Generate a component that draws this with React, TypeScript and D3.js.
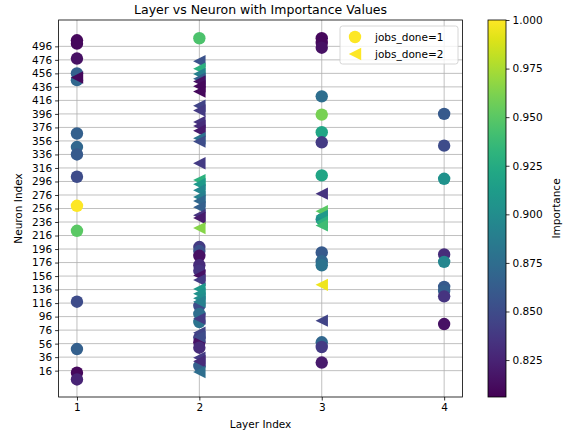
import React, { useRef, useEffect } from 'react';
import * as d3 from 'd3';

// [layer, neuron, importance]
const jobsOne: [number, number, number][] = [
  [1, 505, 0.81], [1, 500, 0.81], [1, 478, 0.815], [1, 456, 0.865], [1, 446, 0.87],
  [1, 367, 0.865], [1, 347, 0.87], [1, 336, 0.86], [1, 303, 0.85], [1, 260, 1.0],
  [1, 223, 0.95], [1, 118, 0.85], [1, 48, 0.865], [1, 13, 0.81], [1, 3, 0.825],
  [2, 508, 0.945], [2, 199, 0.84], [2, 193, 0.855], [2, 186, 0.815], [2, 172, 0.83],
  [2, 164, 0.835], [2, 112, 0.85], [2, 100, 0.875], [2, 88, 0.88], [2, 65, 0.84],
  [2, 58, 0.815], [2, 50, 0.83], [2, 23, 0.865],
  [3, 508, 0.81], [3, 501, 0.81], [3, 494, 0.815], [3, 422, 0.875], [3, 395, 0.96],
  [3, 369, 0.92], [3, 354, 0.84], [3, 305, 0.92], [3, 240, 0.9], [3, 191, 0.86],
  [3, 178, 0.87], [3, 172, 0.88], [3, 58, 0.87], [3, 51, 0.84], [3, 28, 0.82],
  [4, 396, 0.86], [4, 349, 0.85], [4, 300, 0.905], [4, 188, 0.83], [4, 177, 0.895],
  [4, 140, 0.86], [4, 134, 0.865], [4, 126, 0.835], [4, 85, 0.815],
];

const jobsTwo: [number, number, number][] = [
  [1, 450, 0.81],
  [2, 474, 0.855], [2, 463, 0.93], [2, 455, 0.89], [2, 448, 0.865], [2, 444, 0.815],
  [2, 437, 0.81], [2, 429, 0.81], [2, 408, 0.845], [2, 401, 0.84], [2, 384, 0.835],
  [2, 378, 0.83], [2, 371, 0.82], [2, 360, 0.88], [2, 355, 0.85], [2, 323, 0.84],
  [2, 298, 0.93], [2, 292, 0.91], [2, 283, 0.895], [2, 273, 0.89], [2, 267, 0.87],
  [2, 258, 0.865], [2, 246, 0.835], [2, 242, 0.82], [2, 227, 0.965], [2, 157, 0.815],
  [2, 150, 0.84], [2, 137, 0.91], [2, 130, 0.905], [2, 123, 0.9], [2, 118, 0.89],
  [2, 93, 0.84], [2, 72, 0.845], [2, 66, 0.85], [2, 35, 0.84], [2, 30, 0.83], [2, 14, 0.875],
  [3, 278, 0.835], [3, 252, 0.95], [3, 245, 0.91], [3, 236, 0.93], [3, 231, 0.94],
  [3, 143, 0.995], [3, 90, 0.845],
];

const layerTicks = [1, 2, 3, 4];
const neuronTicks = d3.range(16, 497, 20);
const colorTicks = [0.825, 0.85, 0.875, 0.9, 0.925, 0.95, 0.975, 1.0];
const legendLabels = ['jobs_done=1', 'jobs_done=2'];

const App = () => {
  const ref = useRef<SVGSVGElement>(null);

  useEffect(() => {
    const svg = d3.select(ref.current);
    svg.selectAll('*').remove();

    const font = 'DejaVu Sans, sans-serif';
    const left = 58.6, right = 462.5, top = 20, bottom = 397;
    const r = 6.2;

    const x = d3.scaleLinear().domain([0.85, 4.15]).range([left, right]);
    const y = d3.scaleLinear().domain([-23, 535]).range([bottom, top]);
    const cmin = 0.806, cmax = 1.0;
    const color = (v: number) => d3.interpolateViridis((v - cmin) / (cmax - cmin));

    svg.append('rect').attr('width', 570).attr('height', 437).attr('fill', '#fff');

    // grid
    const grid = svg.append('g').attr('stroke', '#b0b0b0').attr('stroke-width', 0.8);
    neuronTicks.forEach(t => {
      grid.append('line').attr('x1', left).attr('x2', right).attr('y1', y(t)).attr('y2', y(t));
    });
    layerTicks.forEach(t => {
      grid.append('line').attr('y1', top).attr('y2', bottom).attr('x1', x(t)).attr('x2', x(t));
    });

    // points
    const clipId = 'plot-clip';
    svg.append('clipPath').attr('id', clipId)
      .append('rect').attr('x', left).attr('y', top).attr('width', right - left).attr('height', bottom - top);

    const pts = svg.append('g').attr('clip-path', `url(#${clipId})`);
    pts.selectAll('circle.one')
      .data(jobsOne)
      .join('circle')
      .attr('cx', d => x(d[0]))
      .attr('cy', d => y(d[1]))
      .attr('r', r)
      .attr('fill', d => color(d[2]));

    const tri = (cx: number, cy: number, s: number) =>
      `M${cx - s},${cy}L${cx + s},${cy - s}L${cx + s},${cy + s}Z`;

    pts.selectAll('path.two')
      .data(jobsTwo)
      .join('path')
      .attr('d', d => tri(x(d[0]), y(d[1]), r))
      .attr('fill', d => color(d[2]));

    // axes
    const xAxis = svg.append('g')
      .attr('transform', `translate(0,${bottom})`)
      .call(d3.axisBottom(x).tickValues(layerTicks).tickFormat(d3.format('d')).tickSize(3.5).tickPadding(3));
    const yAxis = svg.append('g')
      .attr('transform', `translate(${left},0)`)
      .call(d3.axisLeft(y).tickValues(neuronTicks).tickFormat(d3.format('d')).tickSize(3.5).tickPadding(3));
    [xAxis, yAxis].forEach(a => {
      a.select('.domain').remove();
      a.selectAll('text').attr('font-family', font).attr('font-size', 10.5).attr('fill', '#000');
      a.selectAll('line').attr('stroke', '#000').attr('stroke-width', 0.8);
    });

    svg.append('rect')
      .attr('x', left).attr('y', top).attr('width', right - left).attr('height', bottom - top)
      .attr('fill', 'none').attr('stroke', '#000').attr('stroke-width', 0.8);

    // labels
    svg.append('text').attr('x', (left + right) / 2).attr('y', 14)
      .attr('text-anchor', 'middle').attr('font-family', font).attr('font-size', 12.5)
      .text('Layer vs Neuron with Importance Values');
    svg.append('text').attr('x', (left + right) / 2).attr('y', 428)
      .attr('text-anchor', 'middle').attr('font-family', font).attr('font-size', 10.5)
      .text('Layer Index');
    svg.append('text')
      .attr('transform', `translate(22,${(top + bottom) / 2}) rotate(-90)`)
      .attr('text-anchor', 'middle').attr('font-family', font).attr('font-size', 10.5)
      .text('Neuron Index');

    // legend
    const lg = svg.append('g').attr('transform', 'translate(340,26)');
    lg.append('rect').attr('width', 118).attr('height', 38).attr('rx', 2.5)
      .attr('fill', '#fff').attr('fill-opacity', 0.8).attr('stroke', '#cccccc').attr('stroke-width', 0.8);
    const yellow = d3.interpolateViridis(1);
    lg.append('circle').attr('cx', 15).attr('cy', 11).attr('r', r).attr('fill', yellow);
    lg.append('path').attr('d', tri(15, 28, r)).attr('fill', yellow);
    legendLabels.forEach((t, i) => {
      lg.append('text').attr('x', 35).attr('y', 11 + i * 17).attr('dy', '0.35em')
        .attr('font-family', font).attr('font-size', 10.5).text(t);
    });

    // colorbar
    const cbX = 488, cbW = 18;
    const cy = d3.scaleLinear().domain([cmin, cmax]).range([bottom, top]);
    const grad = svg.append('defs').append('linearGradient').attr('id', 'viridis-grad')
      .attr('x1', 0).attr('y1', 1).attr('x2', 0).attr('y2', 0);
    d3.range(0, 1.001, 0.05).forEach(t => {
      grad.append('stop').attr('offset', t).attr('stop-color', d3.interpolateViridis(t));
    });
    svg.append('rect').attr('x', cbX).attr('y', top).attr('width', cbW).attr('height', bottom - top)
      .attr('fill', 'url(#viridis-grad)');
    const cAxis = svg.append('g')
      .attr('transform', `translate(${cbX + cbW},0)`)
      .call(d3.axisRight(cy).tickValues(colorTicks).tickFormat(d3.format('.3f')).tickSize(3.5).tickPadding(3));
    cAxis.select('.domain').remove();
    cAxis.selectAll('text').attr('font-family', font).attr('font-size', 10.5).attr('fill', '#000');
    cAxis.selectAll('line').attr('stroke', '#000').attr('stroke-width', 0.8);
    svg.append('rect').attr('x', cbX).attr('y', top).attr('width', cbW).attr('height', bottom - top)
      .attr('fill', 'none').attr('stroke', '#000').attr('stroke-width', 0.8);
    svg.append('text')
      .attr('transform', `translate(560,${(top + bottom) / 2}) rotate(-90)`)
      .attr('text-anchor', 'middle').attr('font-family', font).attr('font-size', 10.5)
      .text('Importance');
  }, []);

  return (
    <svg ref={ref} width={570} height={437}
      style={{ position: 'absolute', left: 0, top: 0 }} />
  );
};

export default App;
